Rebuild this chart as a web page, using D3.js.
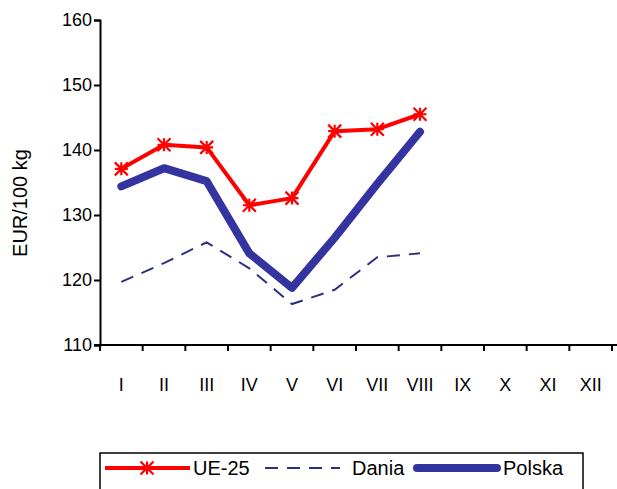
<!DOCTYPE html>
<html><head><meta charset="utf-8">
<script src="https://cdn.jsdelivr.net/npm/d3@7"></script>
<style>
html,body{margin:0;padding:0;background:#fff;}
svg{display:block;font-family:Arial,"Liberation Sans",sans-serif;}
</style></head>
<body>
<svg id="chart" width="617" height="489"></svg>
<script>
const months = ["I","II","III","IV","V","VI","VII","VIII","IX","X","XI","XII"];
const ue25   = [137.1,140.8,140.4,131.5,132.6,142.9,143.2,145.5];
const dania  = [119.7,122.6,125.8,121.8,116.3,118.5,123.5,124.1];
const polska = [134.4,137.2,135.2,124.1,118.8,126.5,134.8,142.8];
const yTicks = [110,120,130,140,150,160];
const seriesNames = ["UE-25","Dania","Polska"];

const svg = d3.select("#chart");
const x = d3.scaleBand().domain(months).range([100,612]).padding(0);
const y = d3.scaleLinear().domain([110,160]).range([345,20]);
const cx = m => x(m) + x.bandwidth()/2;

// Y axis
const yAxis = d3.axisLeft(y).tickValues(yTicks).tickSize(6).tickPadding(2).tickFormat(d3.format("d"));
const gy = svg.append("g").attr("transform","translate(100,0)").call(yAxis);
gy.select(".domain").attr("stroke","#000").attr("stroke-width",2);
gy.selectAll(".tick line").attr("stroke","#000").attr("stroke-width",2);
gy.selectAll(".tick text").attr("font-size",18).attr("fill","#000");

// X axis
const gx = svg.append("g");
gx.append("line").attr("x1",94).attr("x2",617).attr("y1",y(110)).attr("y2",y(110))
  .attr("stroke","#000").attr("stroke-width",2);
const bounds = months.map(m => x(m)).concat([x.range()[1]]);
gx.selectAll("line.tk").data(bounds).join("line").attr("class","tk")
  .attr("x1",d=>d).attr("x2",d=>d).attr("y1",y(110)).attr("y2",y(110)+6)
  .attr("stroke","#000").attr("stroke-width",2);
gx.selectAll("text").data(months).join("text")
  .attr("x",d=>cx(d)).attr("y",391).attr("text-anchor","middle")
  .attr("font-size",18).attr("fill","#000").text(d=>d);

// Y label
svg.append("text").attr("transform","translate(27,203) rotate(-90)")
  .attr("text-anchor","middle").attr("font-size",20).attr("fill","#000").text("EUR/100 kg");

const line = d3.line().x((d,i)=>cx(months[i])).y(d=>y(d));
const red = "#ff0000", blue = "#3434a0", navy = "#2e2e80";

svg.append("path").datum(dania).attr("d",line).attr("fill","none")
  .attr("stroke",navy).attr("stroke-width",2).attr("stroke-dasharray","13,9");
svg.append("path").datum(polska).attr("d",line).attr("fill","none")
  .attr("stroke",blue).attr("stroke-width",8).attr("stroke-linejoin","round").attr("stroke-linecap","round");
svg.append("path").datum(ue25).attr("d",line).attr("fill","none")
  .attr("stroke",red).attr("stroke-width",4).attr("stroke-linejoin","round");

function star(g, px, py, r){
  const p = `M${px},${py-r}L${px},${py+r}M${px-r},${py-r}L${px+r},${py+r}M${px-r},${py+r}L${px+r},${py-r}M${px-r},${py}L${px+r},${py}`;
  g.append("path").attr("d",p).attr("stroke",red).attr("stroke-width",2.2).attr("fill","none");
}
const gm = svg.append("g");
ue25.forEach((v,i)=>star(gm, cx(months[i]), y(v), 6.5));

// Legend
const lg = svg.append("g");
lg.append("rect").attr("x",100).attr("y",453).attr("width",483).attr("height",44)
  .attr("fill","#fff").attr("stroke","#000").attr("stroke-width",1.5);
const ly = 468;
lg.append("line").attr("x1",105).attr("x2",190).attr("y1",ly).attr("y2",ly).attr("stroke",red).attr("stroke-width",4);
star(lg,147,ly,6.5);
lg.append("text").attr("x",193).attr("y",ly+7).attr("font-size",20).text(seriesNames[0]);
lg.append("line").attr("x1",265).attr("x2",340).attr("y1",ly).attr("y2",ly).attr("stroke",navy).attr("stroke-width",2).attr("stroke-dasharray","13,9");
lg.append("text").attr("x",352).attr("y",ly+7).attr("font-size",20).text(seriesNames[1]);
lg.append("line").attr("x1",417).attr("x2",497).attr("y1",ly).attr("y2",ly).attr("stroke",blue).attr("stroke-width",8).attr("stroke-linecap","round");
lg.append("text").attr("x",503).attr("y",ly+7).attr("font-size",20).text(seriesNames[2]);
</script>
</body></html>
